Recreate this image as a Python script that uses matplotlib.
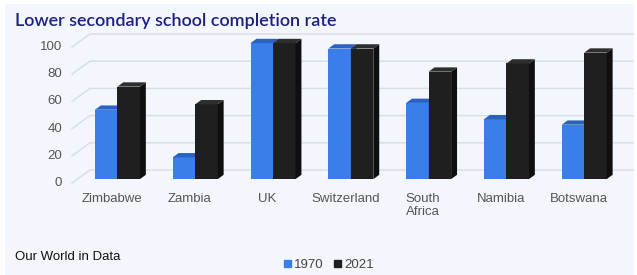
import numpy as np
import matplotlib.pyplot as plt
from matplotlib.patches import Polygon, Rectangle

# data
countries = ["Zimbabwe", "Zambia", "UK", "Switzerland", "South\nAfrica", "Namibia", "Botswana"]
rate_1970 = [51, 16, 100, 96, 56, 44, 40]
rate_2021 = [68, 55, 100, 96, 79, 85, 93]
yticks = [0, 20, 40, 60, 80, 100]
series = ["1970", "2021"]

W, H = 637, 275
# pixel layout of the fake-3d plot (category 0 at x=112, value 0 at y=183)
px_u = 77.8   # px per category
px_v = 1.36   # px per percent
x0, y0 = 112, 183


def ux(p):
    return p / px_u


def vy(p):
    return p / px_v


fig = plt.figure(figsize=(W / 100, H / 100), dpi=100)
fig.patch.set_facecolor("white")
fig.patches.append(Rectangle((5 / W, 0), 629 / W, 271 / H, transform=fig.transFigure,
                             facecolor="#f3f6fc", edgecolor="none", zorder=-5))

ax = fig.add_axes([0, 0, 1, 1])
ax.set_xlim(-x0 / px_u, (W - x0) / px_u)
ax.set_ylim(-(H - y0) / px_v, y0 / px_v)
ax.axis("off")
ax.patch.set_alpha(0)

# depth vector of the wall
dx, dy = ux(18), vy(13)
u_start = ux(72 - x0)
u_end = ux(633 - x0)

for v in yticks:
    ax.plot([u_start, u_start + dx, u_end], [v, v + dy, v + dy], color="#d8dce3", lw=1, zorder=1)
    ax.text(ux(62 - x0), v, str(v), ha="right", va="center", fontsize=9.5,
            color="#555555", family="Liberation Sans")

# bars
w = ux(22.5)
fx, fy = 0.3 * dx, 0.3 * dy
sx, sy = 0.33 * dx, 0.33 * dy
cols = [("#3a7ee9", "#2a62c2", "#2858ad"), ("#1f1f1f", "#2e2e2e", "#0f0f0f")]

x = np.arange(len(countries))
for i in x:
    for k, vals in enumerate([rate_1970, rate_2021]):
        v = vals[i]
        left = i + fx - w + k * w
        front, top, side = cols[k]
        ax.bar(left, v, width=w, bottom=fy, align="edge", color=front, zorder=3 + i * 3 + k)
        r = left + w
        ax.add_patch(Polygon([(r, fy), (r, fy + v), (r + sx, fy + v + sy), (r + sx, fy + sy)],
                             closed=True, facecolor=side, edgecolor="none", zorder=3 + i * 3 + k))
        ax.add_patch(Polygon([(left, fy + v), (r, fy + v), (r + sx, fy + v + sy), (left + sx, fy + v + sy)],
                             closed=True, facecolor=top, edgecolor="none", zorder=3 + i * 3 + k))
    ax.text(i, vy(-10), countries[i], ha="center", va="top", multialignment="left",
            fontsize=9.5, color="#555555", family="Liberation Sans", linespacing=1.1)

fig.text(15 / W, 1 - 21 / H, "Lower secondary school completion rate", ha="left", va="center",
         fontsize=13, color="#1d2080", family="Lato", weight="semibold")
fig.text(15 / W, 1 - 257 / H, "Our World in Data", ha="left", va="center",
         fontsize=9.5, color="#111111", family="Liberation Sans")

handles = [Rectangle((0, 0), 1, 1, color=cols[0][0]), Rectangle((0, 0), 1, 1, color=cols[1][0])]
leg = fig.legend(handles, series, loc="center", bbox_to_anchor=(329 / W, 1 - 265 / H), ncol=2,
                 frameon=False, handlelength=0.5, handleheight=0.5, handletextpad=0.25,
                 columnspacing=0.8, borderpad=0, prop={"family": "Liberation Sans", "size": 9.5})
for t in leg.get_texts():
    t.set_color("#444444")

fig.savefig("out.png", dpi=100)
